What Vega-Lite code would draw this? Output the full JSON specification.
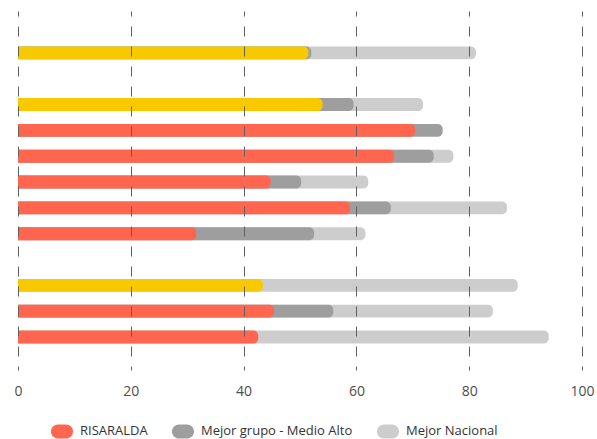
{
  "$schema": "https://vega.github.io/schema/vega-lite/v6.json",
  "width": 564,
  "height": 359,
  "autosize": {"type": "none"},
  "padding": {"left": 18, "top": 11, "right": 15, "bottom": 69},
  "config": {"view": {"stroke": null}, "font": "Open Sans"},
  "data": {
    "values": [
      {"fila": "1", "serie": "Mejor Nacional", "valor": 81.2, "z": 0, "destacado": false},
      {"fila": "1", "serie": "Mejor grupo - Medio Alto", "valor": 52.0, "z": 1, "destacado": false},
      {"fila": "1", "serie": "RISARALDA", "valor": 51.5, "z": 2, "destacado": true},
      {"fila": "2", "serie": "Mejor Nacional", "valor": 71.8, "z": 0, "destacado": false},
      {"fila": "2", "serie": "Mejor grupo - Medio Alto", "valor": 59.5, "z": 1, "destacado": false},
      {"fila": "2", "serie": "RISARALDA", "valor": 54.0, "z": 2, "destacado": true},
      {"fila": "3", "serie": "Mejor grupo - Medio Alto", "valor": 75.3, "z": 1, "destacado": false},
      {"fila": "3", "serie": "RISARALDA", "valor": 70.4, "z": 2, "destacado": false},
      {"fila": "4", "serie": "Mejor Nacional", "valor": 77.2, "z": 0, "destacado": false},
      {"fila": "4", "serie": "Mejor grupo - Medio Alto", "valor": 73.7, "z": 1, "destacado": false},
      {"fila": "4", "serie": "RISARALDA", "valor": 66.7, "z": 2, "destacado": false},
      {"fila": "5", "serie": "Mejor Nacional", "valor": 62.1, "z": 0, "destacado": false},
      {"fila": "5", "serie": "Mejor grupo - Medio Alto", "valor": 50.2, "z": 1, "destacado": false},
      {"fila": "5", "serie": "RISARALDA", "valor": 44.8, "z": 2, "destacado": false},
      {"fila": "6", "serie": "Mejor Nacional", "valor": 86.7, "z": 0, "destacado": false},
      {"fila": "6", "serie": "Mejor grupo - Medio Alto", "valor": 66.1, "z": 1, "destacado": false},
      {"fila": "6", "serie": "RISARALDA", "valor": 58.9, "z": 2, "destacado": false},
      {"fila": "7", "serie": "Mejor Nacional", "valor": 61.6, "z": 0, "destacado": false},
      {"fila": "7", "serie": "Mejor grupo - Medio Alto", "valor": 52.5, "z": 1, "destacado": false},
      {"fila": "7", "serie": "RISARALDA", "valor": 31.6, "z": 2, "destacado": false},
      {"fila": "8", "serie": "Mejor Nacional", "valor": 88.6, "z": 0, "destacado": false},
      {"fila": "8", "serie": "RISARALDA", "valor": 43.4, "z": 2, "destacado": true},
      {"fila": "9", "serie": "Mejor Nacional", "valor": 84.2, "z": 0, "destacado": false},
      {"fila": "9", "serie": "Mejor grupo - Medio Alto", "valor": 55.9, "z": 1, "destacado": false},
      {"fila": "9", "serie": "RISARALDA", "valor": 45.4, "z": 2, "destacado": false},
      {"fila": "10", "serie": "Mejor Nacional", "valor": 94.1, "z": 0, "destacado": false},
      {"fila": "10", "serie": "RISARALDA", "valor": 42.6, "z": 2, "destacado": false}
    ]
  },
  "mark": {"type": "bar", "cornerRadiusEnd": 5},
  "encoding": {
    "y": {
      "field": "fila",
      "type": "nominal",
      "scale": {
        "domain": ["t", "1", "g1", "2", "3", "4", "5", "6", "7", "g2", "8", "9", "10", "b"],
        "paddingInner": 0.5,
        "paddingOuter": 0.2,
        "align": 0.93
      },
      "axis": null
    },
    "x": {
      "field": "valor",
      "type": "quantitative",
      "stack": null,
      "scale": {"domain": [0, 100]},
      "axis": {
        "title": null,
        "values": [0, 20, 40, 60, 80, 100],
        "grid": true,
        "gridDash": [10, 10],
        "gridDashOffset": 6,
        "gridColor": "#5f5f5f",
        "gridWidth": 1,
        "domain": false,
        "ticks": false,
        "labelFontSize": 14,
        "labelColor": "#4d4d4d",
        "labelPadding": 14,
        "labelFlush": false,
        "zindex": 1
      }
    },
    "color": {
      "condition": {"test": "datum.destacado", "value": "#F9C900"},
      "field": "serie",
      "type": "nominal",
      "scale": {
        "domain": ["RISARALDA", "Mejor grupo - Medio Alto", "Mejor Nacional"],
        "range": ["#FF654F", "#9E9E9E", "#CDCDCD"]
      },
      "legend": {
        "title": null,
        "orient": "none",
        "legendX": 33,
        "legendY": 409,
        "direction": "horizontal",
        "symbolType": "M-0.36,-0.64 L0.36,-0.64 A0.64,0.64 0 0 1 0.36,0.64 L-0.36,0.64 A0.64,0.64 0 0 1 -0.36,-0.64 Z",
        "symbolSize": 484,
        "symbolStrokeWidth": 0,
        "labelFontSize": 13,
        "labelColor": "#333333",
        "labelLimit": 400,
        "columnPadding": 24,
        "labelOffset": 7
      }
    },
    "order": {"field": "z", "type": "quantitative"}
  }
}
